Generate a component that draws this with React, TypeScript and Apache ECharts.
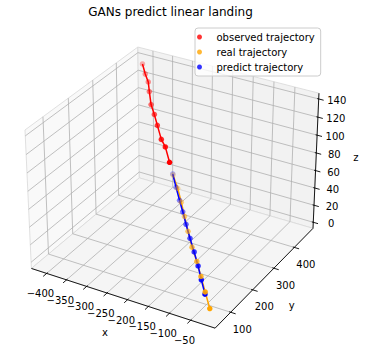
import React, { useEffect, useRef } from 'react';
import * as echarts from 'echarts';

const TITLE = 'GANs predict linear landing';
const NAMES = ['observed trajectory', 'real trajectory', 'predict trajectory'];
const COLORS = ['#ff0000', '#ffa500', '#0000ff'];

const observedX = [-409.6, -392.4, -377.1, -364.4, -346.6, -328.9, -310.7, -287.4, -270.9, -246.1];
const observedY = [464.4, 446.6, 433.0, 415.4, 391.6, 374.8, 355.9, 332.0, 320.2, 294.5];
const observedZ = [136.2, 130.3, 125.8, 119.9, 112.1, 106.5, 100.3, 92.4, 88.5, 79.9];

const realX = [-225.8, -202.4, -181.0, -160.4, -138.6, -115.1, -91.6, -69.1, -46.1, -21.6];
const realY = [273.3, 251.8, 228.9, 205.4, 181.3, 155.8, 133.8, 110.4, 86.4, 61.0];
const realZ = [72.9, 65.8, 58.3, 50.5, 42.5, 34.1, 26.8, 19.0, 11.1, 2.7];

const predictX = [-227.4, -206.9, -186.7, -168.6, -149.6, -127.7, -106.0, -84.8, -65.3, -44.5];
const predictY = [275.0, 252.6, 231.3, 212.7, 192.5, 170.1, 148.7, 126.8, 105.0, 82.6];
const predictZ = [73.5, 66.1, 59.1, 52.9, 46.2, 38.8, 31.7, 24.5, 17.2, 9.8];

const xTicks = [-400, -350, -300, -250, -200, -150, -100, -50];
const yTicks = [100, 200, 300, 400];
const zTicks = [0, 20, 40, 60, 80, 100, 120, 140];

const X_RANGE = [-438.8, 6.7];
const Y_RANGE = [31.4, 494.9];
const Z_RANGE = [-7.15, 146.3];

// view (matplotlib defaults)
const ELEV = 30;
const AZIM = -60;
const DIST = 10;
const ASPECT = [4, 4, 3];

// pixel mapping of the projected plane
const SCALE = 1842;
const CX = 174.7;
const CY = 181.1;
const W = 365;
const H = 356;

const FONT = 'DejaVu Sans';

const aNorm = Math.hypot(ASPECT[0], ASPECT[1], ASPECT[2]);
const BOX = ASPECT.map((v) => (v * 1.8294640721620434) / aNorm);
const deg = Math.PI / 180;
const N = [
  Math.cos(ELEV * deg) * Math.cos(AZIM * deg),
  Math.cos(ELEV * deg) * Math.sin(AZIM * deg),
  Math.sin(ELEV * deg),
];
const uLen = Math.hypot(N[0], N[1]);
const U = [-N[1] / uLen, N[0] / uLen, 0];
const V = [
  N[1] * U[2] - N[2] * U[1],
  N[2] * U[0] - N[0] * U[2],
  N[0] * U[1] - N[1] * U[0],
];
const dot = (a: number[], b: number[]) => a[0] * b[0] + a[1] * b[1] + a[2] * b[2];

function project(x: number, y: number, z: number) {
  const d = [
    ((x - X_RANGE[0]) / (X_RANGE[1] - X_RANGE[0])) * BOX[0] - BOX[0] / 2,
    ((y - Y_RANGE[0]) / (Y_RANGE[1] - Y_RANGE[0])) * BOX[1] - BOX[1] / 2,
    ((z - Z_RANGE[0]) / (Z_RANGE[1] - Z_RANGE[0])) * BOX[2] - BOX[2] / 2,
  ];
  const nd = dot(N, d);
  const w = DIST - nd;
  return [dot(U, d) / w, dot(V, d) / w, nd];
}

const fmt = (v: number) => (v < 0 ? '\u2212' + Math.abs(v) : String(v));

function buildOption() {
  const trajectories = [
    [observedX, observedY, observedZ],
    [realX, realY, realZ],
    [predictX, predictY, predictZ],
  ];
  const projected = trajectories.map(([xs, ys, zs]) => xs.map((x, i) => project(x, ys[i], zs[i])));

  const [x0, x1] = X_RANGE;
  const [y0, y1] = Y_RANGE;
  const [z0, z1] = Z_RANGE;
  const rx = x1 - x0;
  const ry = y1 - y0;

  const renderItem = (params: any, api: any) => {
    const pt = (x: number, y: number, z: number) => {
      const p = project(x, y, z);
      return api.coord([p[0], p[1]]);
    };
    const children: any[] = [];
    const pane = (pts: number[][], fill: string) =>
      children.push({
        type: 'polygon',
        shape: { points: pts.map((p) => pt(p[0], p[1], p[2])) },
        style: { fill, stroke: '#d8d8d8', lineWidth: 0.8 },
      });
    pane([[x0, y0, z0], [x0, y1, z0], [x0, y1, z1], [x0, y0, z1]], '#f9f9f9');
    pane([[x0, y1, z0], [x1, y1, z0], [x1, y1, z1], [x0, y1, z1]], '#f2f2f2');
    pane([[x0, y0, z0], [x1, y0, z0], [x1, y1, z0], [x0, y1, z0]], '#f5f5f5');

    const grid = (pts: number[][]) =>
      children.push({
        type: 'polyline',
        shape: { points: pts.map((p) => pt(p[0], p[1], p[2])) },
        style: { fill: 'none', stroke: '#b0b0b0', lineWidth: 0.8 },
      });
    xTicks.forEach((t) => grid([[t, y0, z0], [t, y1, z0], [t, y1, z1]]));
    yTicks.forEach((t) => grid([[x1, t, z0], [x0, t, z0], [x0, t, z1]]));
    zTicks.forEach((t) => grid([[x0, y0, t], [x0, y1, t], [x1, y1, t]]));

    const line = (a: number[], b: number[]) =>
      children.push({
        type: 'line',
        shape: (() => {
          const p = pt(a[0], a[1], a[2]);
          const q = pt(b[0], b[1], b[2]);
          return { x1: p[0], y1: p[1], x2: q[0], y2: q[1] };
        })(),
        style: { stroke: '#000000', lineWidth: 0.9 },
      });
    line([x0, y0, z0], [x1, y0, z0]);
    line([x1, y0, z0], [x1, y1, z0]);
    line([x1, y1, z0], [x1, y1, z1]);

    const text = (p: number[], dx: number, dy: number, s: string) =>
      children.push({
        type: 'text',
        x: p[0] + dx,
        y: p[1] + dy,
        style: {
          text: s,
          fill: '#000000',
          fontSize: 10,
          fontFamily: FONT,
          align: 'center',
          verticalAlign: 'middle',
          textAlign: 'center',
          textVerticalAlign: 'middle',
        },
      });

    xTicks.forEach((t) => {
      line([t, y0 + 0.008 * ry, z0], [t, y0 - 0.03 * ry, z0]);
      text(pt(t, y0, z0), -6.2, 20.4, fmt(t));
    });
    yTicks.forEach((t) => {
      line([x1 - 0.008 * rx, t, z0], [x1 + 0.026 * rx, t, z0]);
      text(pt(x1, t, z0), 11.6, 17.1, fmt(t));
    });
    zTicks.forEach((t) => {
      line([x1 - 0.008 * rx, y1, t], [x1 + 0.026 * rx, y1, t]);
      text(pt(x1, y1, t), 18, 1.6, fmt(t));
    });

    text(pt((x0 + x1) / 2, y0, z0), -16, 35.2, 'x');
    text(pt(x1, (y0 + y1) / 2, z0), 25.5, 29.6, 'y');
    text(pt(x1, y1, (z0 + z1) / 2), 40, -5, 'z');

    return { type: 'group', children };
  };

  const lineSeries = projected.map((pts, i) => ({
    type: 'line',
    name: NAMES[i] + ' path',
    data: pts.map((p) => [p[0], p[1]]),
    showSymbol: false,
    symbol: 'none',
    lineStyle: { color: COLORS[i], width: 1.5 },
    z: 2,
    silent: true,
  }));

  const scatterSeries = projected.map((pts, i) => {
    const depths = pts.map((p) => p[2]);
    const mn = Math.min(...depths);
    const mx = Math.max(...depths);
    return {
      type: 'scatter',
      name: NAMES[i],
      symbol: 'circle',
      symbolSize: 5.5,
      itemStyle: { color: COLORS[i] },
      data: pts.map((p) => ({
        value: [p[0], p[1]],
        itemStyle: { opacity: 1 - ((mx - p[2]) / (mx - mn)) * 0.7 },
      })),
      z: 3,
    };
  });

  return {
    animation: false,
    backgroundColor: '#ffffff',
    title: {
      text: TITLE,
      left: 170.5,
      top: 6,
      padding: 0,
      textAlign: 'center',
      textStyle: { fontSize: 12, fontWeight: 'normal', color: '#000000', fontFamily: FONT },
    },
    legend: {
      data: NAMES,
      orient: 'vertical',
      left: 195,
      top: 28,
      icon: 'circle',
      itemWidth: 24,
      itemHeight: 5,
      itemGap: 3,
      padding: [3, 6, 3, 2],
      backgroundColor: 'rgba(255,255,255,0.8)',
      borderColor: '#cccccc',
      borderWidth: 1,
      borderRadius: 3,
      selectedMode: false,
      textStyle: { fontSize: 10, lineHeight: 12, color: '#000000', fontFamily: FONT },
    },
    grid: { left: 0, top: 0, width: W, height: H },
    xAxis: { type: 'value', min: (0 - CX) / SCALE, max: (W - CX) / SCALE, show: false },
    yAxis: { type: 'value', min: (CY - H) / SCALE, max: CY / SCALE, show: false },
    series: [
      {
        type: 'custom',
        coordinateSystem: 'cartesian2d',
        data: [[0, 0]],
        renderItem,
        z: 1,
        silent: true,
      },
      lineSeries[0],
      lineSeries[1],
      lineSeries[2],
      scatterSeries[0],
      scatterSeries[2],
      scatterSeries[1],
    ],
  };
}

export default function App() {
  const ref = useRef<HTMLDivElement>(null);
  useEffect(() => {
    const chart = echarts.init(ref.current as HTMLDivElement, null, { renderer: 'svg' });
    chart.setOption(buildOption() as any);
    return () => chart.dispose();
  }, []);
  return (
    <div
      ref={ref}
      style={{ position: 'fixed', left: 0, top: 0, width: W, height: H, background: '#ffffff' }}
    />
  );
}
